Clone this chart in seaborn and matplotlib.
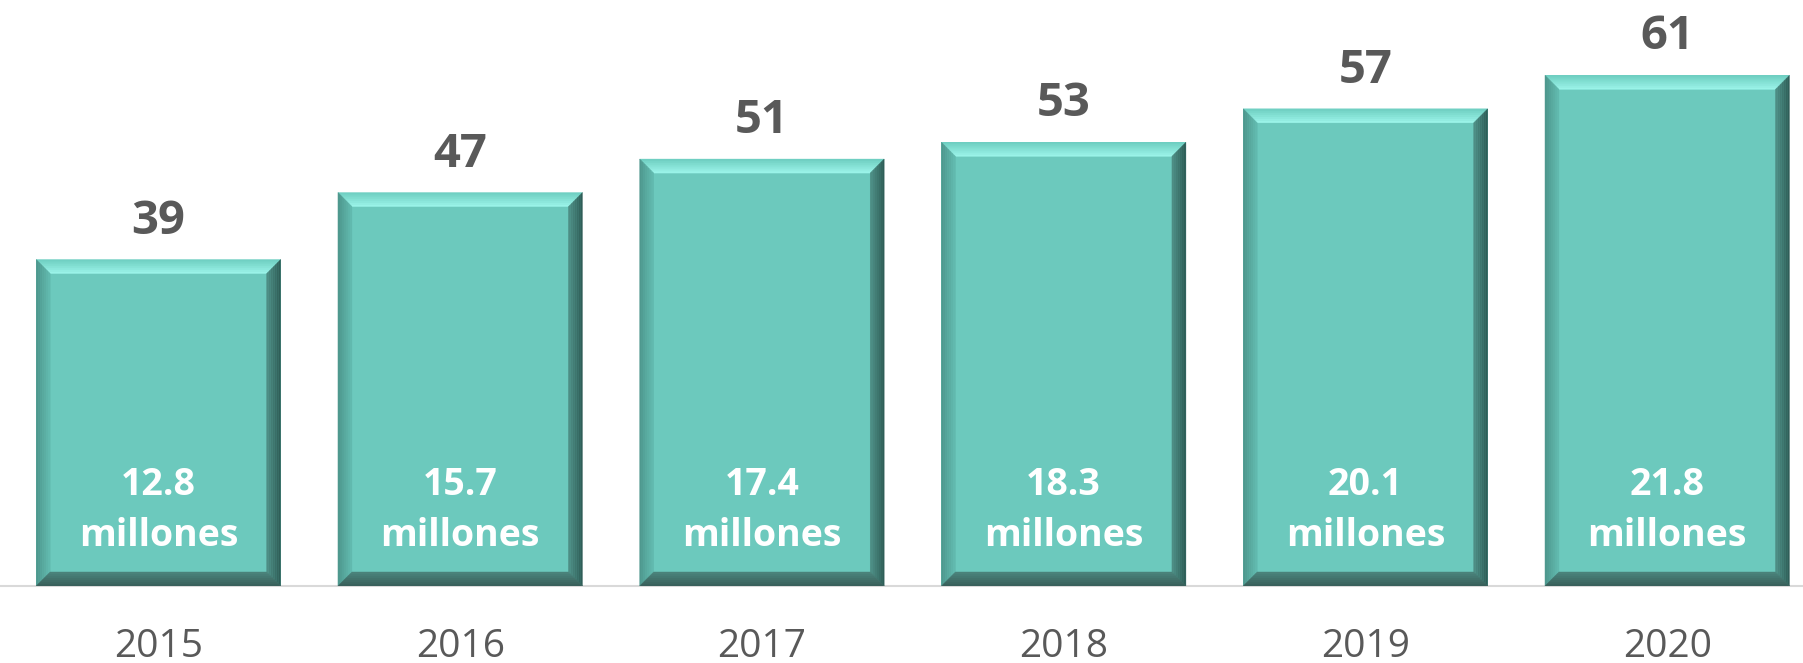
import matplotlib
matplotlib.use("Agg")
import matplotlib.pyplot as plt
from matplotlib.patches import Polygon
from matplotlib.colors import to_rgb
import numpy as np
import seaborn as sns
import pandas as pd

# data
years = ["2015", "2016", "2017", "2018", "2019", "2020"]
values = [39, 47, 51, 53, 57, 61]
inner_labels = ["12.8", "15.7", "17.4", "18.3", "20.1", "21.8"]

df = pd.DataFrame({"year": years, "value": values})

sns.set_theme(style="white")
plt.rcParams["font.family"] = ["Open Sans", "DejaVu Sans"]

fig = plt.figure(figsize=(18.03, 6.63), dpi=100)
ax = fig.add_axes([0, 77 / 663, 1, 586 / 663])

sns.barplot(data=df, x="year", y="value", color="#6cc9bd", width=0.81,
            saturation=1, ax=ax, edgecolor="none")

ax.set_xlim(-0.525, 5.45)
ax.set_ylim(0, 70)


def mix(c1, c2, t):
    a, b = np.array(to_rgb(c1)), np.array(to_rgb(c2))
    return tuple(a + (b - a) * t)


# bevel look: each side split in a few strips, outer colour -> inner colour
bx = 14 / 302.8   # bevel width in x units (14 px)
by = 14 / 8.37    # same in y units
n = 7
sides = {
    "top": ("#6ccdc0", "#9ef6eb"),
    "left": ("#4c958b", "#63bcb1"),
    "right": ("#2d5a54", "#4f9188"),
    "bottom": ("#385d58", "#4b857d"),
}
for p in ax.patches[:len(values)]:
    x0, y0 = p.get_x(), p.get_y()
    x1, y1 = x0 + p.get_width(), y0 + p.get_height()
    for k in range(n):
        t0, t1 = k / n, (k + 1) / n
        c = lambda s: mix(sides[s][0], sides[s][1], (k + 0.5) / n)
        # outer and inner rectangles for this strip
        ox0, ox1, oy0, oy1 = x0 + bx * t0, x1 - bx * t0, y0 + by * t0, y1 - by * t0
        ix0, ix1, iy0, iy1 = x0 + bx * t1, x1 - bx * t1, y0 + by * t1, y1 - by * t1
        polys = {
            "top": [(ox0, oy1), (ox1, oy1), (ix1, iy1), (ix0, iy1)],
            "left": [(ox0, oy0), (ox0, oy1), (ix0, iy1), (ix0, iy0)],
            "right": [(ox1, oy0), (ox1, oy1), (ix1, iy1), (ix1, iy0)],
            "bottom": [(ox0, oy0), (ox1, oy0), (ix1, iy0), (ix0, iy0)],
        }
        for s, pts in polys.items():
            ax.add_patch(Polygon(pts, closed=True, facecolor=c(s),
                                 edgecolor=c(s), linewidth=0.3, zorder=3))

for i, (v, lab) in enumerate(zip(values, inner_labels)):
    ax.text(i, v + 3.1, str(v), ha="center", va="baseline", fontsize=34,
            fontweight="bold", color="#595959")
    ax.text(i, 10.9, lab, ha="center", va="baseline", fontsize=27,
            fontweight="bold", color="white", zorder=4)
    ax.text(i, 4.8, "millones", ha="center", va="baseline", fontsize=27,
            fontweight="bold", color="white", zorder=4)

ax.set_xlabel("")
ax.set_ylabel("")
ax.set_yticks([])
ax.tick_params(axis="x", length=0, labelsize=28, labelcolor="#595959", pad=30)
for s in ["top", "right", "left"]:
    ax.spines[s].set_visible(False)
ax.spines["bottom"].set_color("#d9d9d9")
ax.spines["bottom"].set_linewidth(1.5)

fig.savefig("out.png", dpi=100)
